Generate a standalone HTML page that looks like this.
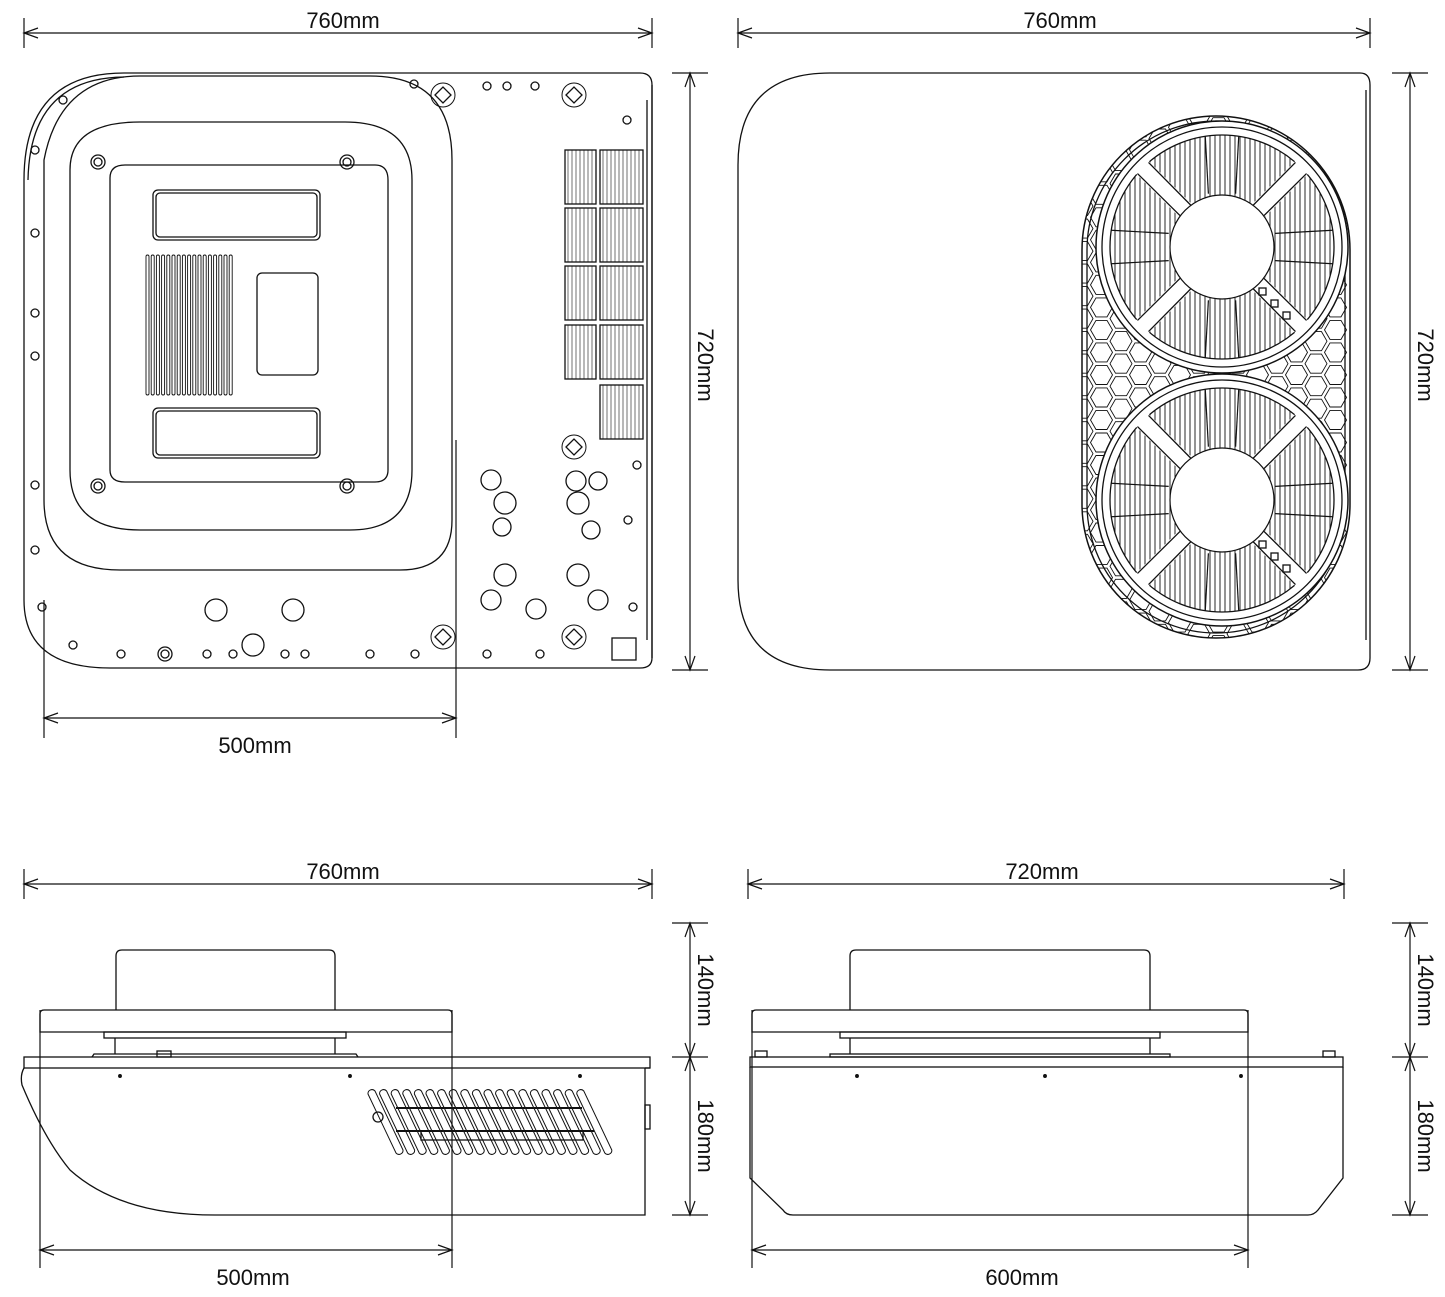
<!DOCTYPE html>
<html><head><meta charset="utf-8"><style>
html,body{margin:0;padding:0;background:#fff}
svg{display:block}
text{font-family:"Liberation Sans",sans-serif;font-size:22px;fill:#111}
</style></head><body>
<svg id="s" width="1445" height="1297" viewBox="0 0 1445 1297" xmlns="http://www.w3.org/2000/svg" fill="none" stroke="#111" stroke-width="1.3">
<defs>
<clipPath id="c1"><circle cx="1222" cy="247" r="112"/></clipPath>
<clipPath id="c2"><circle cx="1222" cy="500" r="112"/></clipPath>
<clipPath id="ov"><rect x="1082" y="116" width="268" height="522" rx="134"/></clipPath>
</defs>
<g id="dims" stroke-width="1.2">
<!-- top-left -->
<line x1="24" y1="33" x2="652" y2="33"/><line x1="24" y1="18" x2="24" y2="48"/><line x1="652" y1="18" x2="652" y2="48"/>
<line x1="690" y1="73" x2="690" y2="670"/><line x1="672" y1="73" x2="708" y2="73"/><line x1="672" y1="670" x2="708" y2="670"/>
<line x1="44" y1="718" x2="456" y2="718"/><line x1="44" y1="600" x2="44" y2="738"/><line x1="456" y1="440" x2="456" y2="738"/>
<!-- top-right -->
<line x1="738" y1="33" x2="1370" y2="33"/><line x1="738" y1="18" x2="738" y2="48"/><line x1="1370" y1="18" x2="1370" y2="48"/>
<line x1="1410" y1="73" x2="1410" y2="670"/><line x1="1392" y1="73" x2="1428" y2="73"/><line x1="1392" y1="670" x2="1428" y2="670"/>
<!-- bottom-left -->
<line x1="24" y1="884" x2="652" y2="884"/><line x1="24" y1="869" x2="24" y2="899"/><line x1="652" y1="869" x2="652" y2="899"/>
<line x1="690" y1="923" x2="690" y2="1215"/><line x1="672" y1="923" x2="708" y2="923"/><line x1="672" y1="1057" x2="708" y2="1057"/><line x1="672" y1="1215" x2="708" y2="1215"/>
<line x1="40" y1="1250" x2="452" y2="1250"/><line x1="40" y1="1010" x2="40" y2="1268"/><line x1="452" y1="1010" x2="452" y2="1268"/>
<!-- bottom-right -->
<line x1="748" y1="884" x2="1344" y2="884"/><line x1="748" y1="869" x2="748" y2="899"/><line x1="1344" y1="869" x2="1344" y2="899"/>
<line x1="1410" y1="923" x2="1410" y2="1215"/><line x1="1392" y1="923" x2="1428" y2="923"/><line x1="1392" y1="1057" x2="1428" y2="1057"/><line x1="1392" y1="1215" x2="1428" y2="1215"/>
<line x1="752" y1="1250" x2="1248" y2="1250"/><line x1="752" y1="1010" x2="752" y2="1268"/><line x1="1248" y1="1010" x2="1248" y2="1268"/>
</g>
<g id="arr" stroke-width="1.2"></g>
<g stroke="none">
<text x="343" y="28" text-anchor="middle">760mm</text>
<text x="1060" y="28" text-anchor="middle">760mm</text>
<text x="255" y="753" text-anchor="middle">500mm</text>
<text x="343" y="879" text-anchor="middle">760mm</text>
<text x="1042" y="879" text-anchor="middle">720mm</text>
<text x="253" y="1285" text-anchor="middle">500mm</text>
<text x="1022" y="1285" text-anchor="middle">600mm</text>
<text transform="translate(698,365) rotate(90)" text-anchor="middle">720mm</text>
<text transform="translate(1418,365) rotate(90)" text-anchor="middle">720mm</text>
<text transform="translate(698,990) rotate(90)" text-anchor="middle">140mm</text>
<text transform="translate(698,1136) rotate(90)" text-anchor="middle">180mm</text>
<text transform="translate(1418,990) rotate(90)" text-anchor="middle">140mm</text>
<text transform="translate(1418,1136) rotate(90)" text-anchor="middle">180mm</text>
</g>

<!-- TOP LEFT VIEW -->
<path d="M24,180 Q24,73 124,73 L640,73 Q652,73 652,85 L652,658 Q652,668 640,668 L110,668 Q24,668 24,600 Z"/>
<path d="M28,180 Q30,78 124,77"/>
<path d="M44,160 Q60,76 140,76 L370,76 Q452,76 452,160 L452,520 Q452,570 400,570 L120,570 Q44,570 44,500 Z"/>
<path d="M70,170 Q70,122 140,122 L345,122 Q412,122 412,180 L412,470 Q412,530 350,530 L140,530 Q70,530 70,470 Z"/>
<path d="M110,178 Q110,165 125,165 L375,165 Q388,165 388,180 L388,470 Q388,482 375,482 L125,482 Q110,482 110,470 Z"/>
<rect x="153" y="190" width="167" height="50" rx="5"/><rect x="156" y="193" width="161" height="44" rx="4"/>
<rect x="153" y="408" width="167" height="50" rx="5"/><rect x="156" y="411" width="161" height="44" rx="4"/>
<rect x="257" y="273" width="61" height="102" rx="5"/>
<g id="grill"></g>
<g id="tl"></g>
<line x1="652" y1="85" x2="652" y2="658"/><line x1="647" y1="100" x2="647" y2="640"/>
<rect x="612" y="638" width="24" height="22"/>

<!-- TOP RIGHT VIEW -->
<path d="M830,73 L1360,73 Q1370,73 1370,85 L1370,658 Q1370,670 1358,670 L830,670 Q738,670 738,580 L738,165 Q738,73 830,73 Z"/>
<line x1="1366" y1="90" x2="1366" y2="640"/>
<g id="fan"></g>

<!-- BOTTOM LEFT VIEW -->
<path d="M116,1010 L116,956 Q116,950 122,950 L329,950 Q335,950 335,956 L335,1010"/>
<path d="M40,1032 L40,1014 Q40,1010 44,1010 L448,1010 Q452,1010 452,1014 L452,1032 Z"/>
<rect x="104" y="1032" width="242" height="6"/>
<line x1="115" y1="1038" x2="115" y2="1054"/><line x1="335" y1="1038" x2="335" y2="1054"/>
<path d="M92,1057 L94,1054 L356,1054 L358,1057"/>
<rect x="157" y="1051" width="14" height="6"/>
<rect x="24" y="1057" width="626" height="11"/>
<path d="M24,1068 Q20,1075 22,1085 Q45,1140 70,1170 Q120,1215 215,1215 L645,1215 L645,1068"/>
<line x1="645" y1="1068" x2="650" y2="1068"/><rect x="645" y="1105" width="5" height="24"/>
<circle cx="120" cy="1076" r="1.3" fill="#111"/><circle cx="350" cy="1076" r="1.3" fill="#111"/><circle cx="580" cy="1076" r="1.3" fill="#111"/>
<g id="vent"></g>

<!-- BOTTOM RIGHT VIEW -->
<path d="M850,1010 L850,956 Q850,950 856,950 L1144,950 Q1150,950 1150,956 L1150,1010"/>
<path d="M752,1032 L752,1014 Q752,1010 756,1010 L1244,1010 Q1248,1010 1248,1014 L1248,1032 Z"/>
<rect x="840" y="1032" width="320" height="6"/>
<line x1="850" y1="1038" x2="850" y2="1054"/><line x1="1150" y1="1038" x2="1150" y2="1054"/>
<rect x="830" y="1054" width="340" height="3"/>
<rect x="755" y="1051" width="12" height="6"/><rect x="1323" y="1051" width="12" height="6"/>
<rect x="750" y="1057" width="593" height="10"/>
<path d="M750,1067 L750,1178 L783,1210 Q786,1215 793,1215 L1308,1215 Q1314,1215 1318,1210 L1343,1178 L1343,1067"/>
<circle cx="857" cy="1076" r="1.3" fill="#111"/><circle cx="1045" cy="1076" r="1.3" fill="#111"/><circle cx="1241" cy="1076" r="1.3" fill="#111"/>
</svg>
<script>
const NS="http://www.w3.org/2000/svg";
function el(p,t,a){const e=document.createElementNS(NS,t);for(const k in a)e.setAttribute(k,a[k]);p.appendChild(e);return e;}
const A=document.getElementById('arr');
function arrH(x,y,d){el(A,'path',{d:`M${x+d*14},${y-5} L${x},${y} L${x+d*14},${y+5}`});}
function arrV(x,y,d){el(A,'path',{d:`M${x-5},${y+d*14} L${x},${y} L${x+5},${y+d*14}`});}
[[24,652,33],[738,1370,33],[44,456,718],[24,652,884],[748,1344,884],[40,452,1250],[752,1248,1250]].forEach(([a,b,y])=>{arrH(a,y,1);arrH(b,y,-1);});
[[690,73,670],[1410,73,670],[690,923,1057],[690,1057,1215],[1410,923,1057],[1410,1057,1215]].forEach(([x,a,b])=>{arrV(x,a,1);arrV(x,b,-1);});
// grill
const G=document.getElementById('grill');
for(let i=0;i<17;i++){const x=146+i*5.2;el(G,'rect',{x:x,y:255,width:3,height:140,rx:1.5,'stroke-width':0.9});}
// top-left small holes etc
const T=document.getElementById('tl');
[[35,150],[35,233],[35,313],[35,356],[35,485],[35,550],[42,607],[73,645],[121,654],[207,654],[233,654],[285,654],[305,654],[370,654],[415,654],[487,86],[507,86],[535,86],[487,654],[540,654],[627,120],[628,520],[633,607],[637,465],[63,100],[414,84]].forEach(([x,y])=>el(T,'circle',{cx:x,cy:y,r:4}));
[[98,162],[347,162],[98,486],[347,486],[165,654]].forEach(([x,y])=>{el(T,'circle',{cx:x,cy:y,r:7});el(T,'circle',{cx:x,cy:y,r:4});});
[[216,610,11],[293,610,11],[253,645,11],[491,480,10],[505,503,11],[502,527,9],[505,575,11],[491,600,10],[536,609,10],[578,503,11],[591,530,9],[576,481,10],[598,481,9],[578,575,11],[598,600,10]].forEach(([x,y,r])=>el(T,'circle',{cx:x,cy:y,r:r}));
function cross(x,y){el(T,'circle',{cx:x,cy:y,r:12,'stroke-width':1});el(T,'path',{d:`M${x-8},${y} L${x},${y-8} L${x+8},${y} L${x},${y+8} Z`});}
[[443,95],[574,95],[443,637],[574,637],[574,447]].forEach(([x,y])=>cross(x,y));
// coil blocks
[[565,150],[600,150],[565,208],[600,208],[565,266],[600,266],[565,325],[600,325],[600,385]].forEach(([x,y],i)=>{const w=i%2==0&&i<8?31:43;el(T,'rect',{x:x,y:y,width:w,height:54});for(let k=3;k<w;k+=4)el(T,'line',{x1:x+k,y1:y,x2:x+k,y2:y+54,'stroke-width':0.6});});
// fan
const F=document.getElementById('fan');
el(F,'rect',{x:1082,y:116,width:268,height:522,rx:134,'stroke-width':1.5});
el(F,'rect',{x:1087,y:121,width:258,height:512,rx:129});
const H=el(F,'g',{'clip-path':'url(#ov)','stroke-width':0.9});
const hr=13;
for(let r=0;r<42;r++)for(let c=0;c<14;c++){const cx=1082+c*hr*1.5,cy=116+r*hr*0.866*2+(c%2?hr*0.866:0);let p='';for(let k=0;k<6;k++){const a=Math.PI/3*k;p+=(k?'L':'M')+(cx+(hr-2)*Math.cos(a)).toFixed(1)+','+(cy+(hr-2)*Math.sin(a)).toFixed(1);}el(H,'path',{d:p+'Z'});}
[[247,'c1'],[500,'c2']].forEach(([cy,cid])=>{
 const cx=1222;
 el(F,'circle',{cx:cx,cy:cy,r:126,fill:'#fff','stroke-width':1.5});
 el(F,'circle',{cx:cx,cy:cy,r:120});
 el(F,'circle',{cx:cx,cy:cy,r:112});
 const g=el(F,'g',{'clip-path':`url(#${cid})`,'stroke-width':0.9});
 for(let x=cx-112;x<cx+112;x+=5)el(g,'line',{x1:x,y1:cy-112,x2:x,y2:cy+112});
 for(let k=0;k<4;k++){const a=Math.PI/4+k*Math.PI/2;el(F,'line',{x1:cx+50*Math.cos(a),y1:cy+50*Math.sin(a),x2:cx+115*Math.cos(a),y2:cy+115*Math.sin(a),stroke:'#fff','stroke-width':18});
  el(F,'line',{x1:cx+50*Math.cos(a-0.15),y1:cy+50*Math.sin(a-0.15),x2:cx+112*Math.cos(a-0.07),y2:cy+112*Math.sin(a-0.07)});
  el(F,'line',{x1:cx+50*Math.cos(a+0.15),y1:cy+50*Math.sin(a+0.15),x2:cx+112*Math.cos(a+0.07),y2:cy+112*Math.sin(a+0.07)});}
 for(let k=0;k<4;k++){const a=k*Math.PI/2;[-0.25,0.25].forEach(o=>el(F,'line',{x1:cx+55*Math.cos(a+o),y1:cy+55*Math.sin(a+o),x2:cx+112*Math.cos(a+o*0.6),y2:cy+112*Math.sin(a+o*0.6),'stroke-width':1.2}));}
 el(F,'circle',{cx:cx,cy:cy,r:52,fill:'#fff','stroke-width':1.2});
 [[40,44],[52,56],[64,68]].forEach(([dx,dy])=>el(F,'rect',{x:cx+dx-3,y:cy+dy-3,width:7,height:7,fill:'#fff'}));
});
// vent
const V=document.getElementById('vent');
for(let i=0;i<19;i++){const x=368+i*11.6;el(V,'path',{d:`M${x},1094 L${x+28},1153 a4,4 0 0 0 7,-3 L${x+7},1091 a4,4 0 0 0 -7,3Z`,'stroke-width':1});}
el(V,'line',{x1:396,y1:1108,x2:582,y2:1108,'stroke-width':2});
el(V,'line',{x1:396,y1:1131,x2:594,y2:1131,'stroke-width':2});
el(V,'rect',{x:421,y:1131,width:162,height:9});
el(V,'circle',{cx:378,cy:1117,r:5});
</script>
</body></html>
